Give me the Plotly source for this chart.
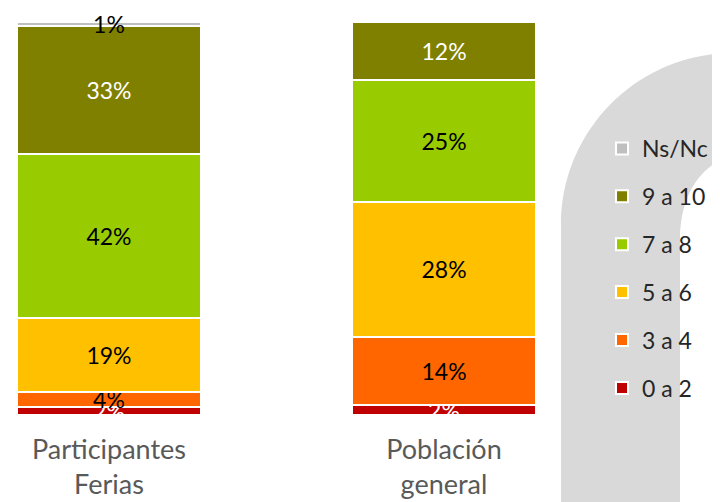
import plotly.graph_objects as go

# Groups on the x axis
groups = ["Participantes<br>Ferias", "Población<br>general"]

# Rating bands, bottom to top of the stack
bands = ["0 a 2", "3 a 4", "5 a 6", "7 a 8", "9 a 10", "Ns/Nc"]
colors = ["#C00000", "#FF6600", "#FFC000", "#99CC00", "#808000", "#BFBFBF"]
text_colors = ["white", "black", "black", "black", "white", "black"]

# Percent values per band (Participantes Ferias, Población general)
val_0_2 = [2, 2]
val_3_4 = [4, 14]
val_5_6 = [19, 28]
val_7_8 = [42, 25]
val_9_10 = [33, 12]
val_nsnc = [1, 0]
values = [val_0_2, val_3_4, val_5_6, val_7_8, val_9_10, val_nsnc]

W, H = 720, 502
OFF = 8  # page body margin shifts the figure by 8px


def px(x, y):
    # screen pixel position -> paper coordinates (margins are zero)
    return f"{(x - OFF) / W:.4f},{1 - (y - OFF) / H:.4f}"


# decorative grey arch behind the legend
arch = ("M " + px(561, 530) + " L " + px(561, 225)
        + " C " + px(561, 130) + " " + px(638, 53) + " " + px(733, 53)
        + " L " + px(770, 53) + " L " + px(770, 150)
        + " L " + px(745, 152)
        + " C " + px(705, 158) + " " + px(680, 190) + " " + px(680, 240)
        + " L " + px(680, 530) + " Z")

fig = go.Figure()
for i, (name, vals, col, tcol) in enumerate(zip(bands, values, colors, text_colors)):
    fig.add_trace(go.Bar(
        x=groups, y=vals, name=name,
        marker=dict(color=col, line=dict(color="white", width=2)),
        text=[f"{v}%" if v else "" for v in vals],
        textposition="inside", insidetextanchor="middle", textangle=0,
        textfont=dict(color=tcol, size=23),
        cliponaxis=(name != "Ns/Nc"),
        legendgroup=name, legendrank=len(bands) - i, hoverinfo="skip",
    ))

fig.update_layout(
    width=W, height=H,
    margin=dict(l=0, r=0, t=0, b=0),
    paper_bgcolor="white", plot_bgcolor="rgba(0,0,0,0)",
    font=dict(family="Lato, sans-serif"),
    barmode="stack", barnorm="percent", bargap=0.45,
    uniformtext=dict(minsize=23, mode="show"),
    shapes=[dict(type="path", path=arch, xref="paper", yref="paper",
                 fillcolor="#D9D9D9", line=dict(width=0), layer="below")],
    legend=dict(x=0.825, y=0.763, xanchor="left", yanchor="top",
                traceorder="grouped", tracegroupgap=15,
                bgcolor="rgba(0,0,0,0)",
                font=dict(size=23, color="#262626")),
)
fig.update_xaxes(domain=[0, 0.75], range=[-0.3015, 1.3104],
                 showgrid=False, showline=False, ticks="",
                 ticklabelstandoff=16,
                 tickfont=dict(size=27, color="#595959"), automargin=False)
fig.update_yaxes(domain=[0.1892, 0.9721], range=[0, 100], visible=False)

fig.write_html("out.html")
